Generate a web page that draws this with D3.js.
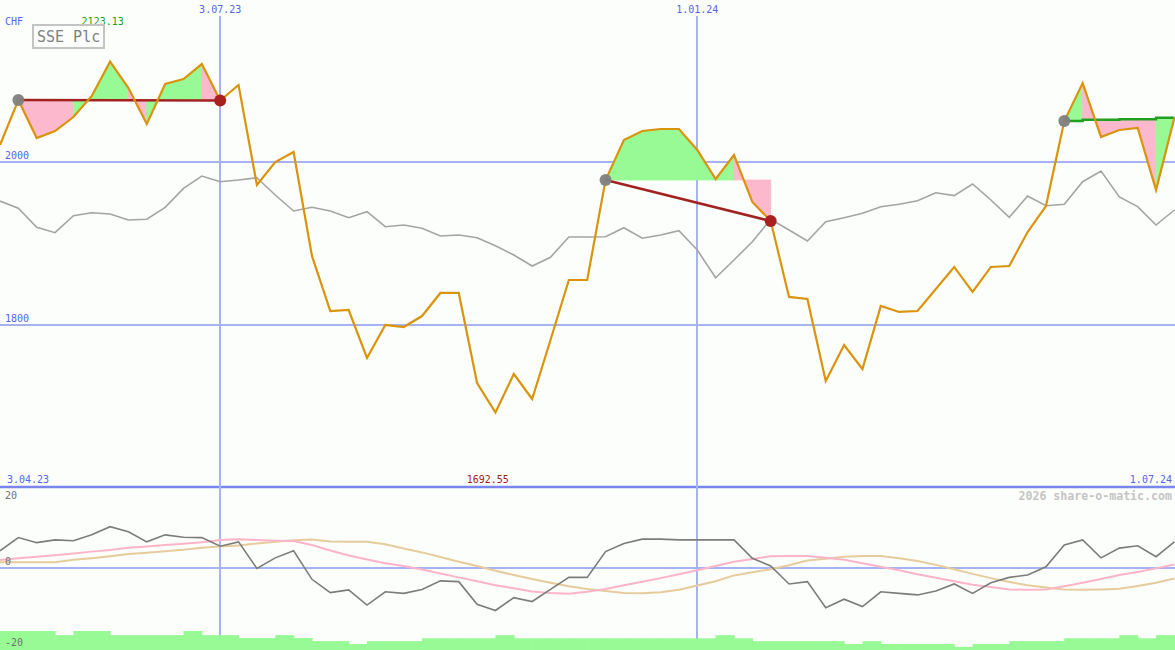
<!DOCTYPE html>
<html><head><meta charset="utf-8">
<script src="https://cdn.jsdelivr.net/npm/d3@7"></script>
<style>
html,body{margin:0;padding:0;background:#fcfefc;}
svg{display:block;}
text{font-family:"DejaVu Sans Mono",monospace;}
</style></head>
<body>
<script>
// ---------- data ----------
const startDate = "2023-04-10", endDate = "2024-07-01";
const rangeLabels = ["3.04.23", "1.07.24"];
const dateTicks = ["2023-07-03", "2024-01-01"];
const dateTickLabels = ["3.07.23", "1.01.24"];
const priceTicks = [2000, 1800];
const oscTicks = [20, 0, -20];
const currency = "CHF";
const title = "SSE Plc";
const watermark = "2026 share-o-matic.com";

const price = [2020.9,2076.1,2029.4,2038.0,2055.2,2081.0,2123.13,2090.8,2046.6,2095.7,
  2101.8,2120.2,2075.5,2094.5,1971.8,2000.0,2012.3,1884.7,1817.2,1818.4,
  1759.5,1800.0,1797.5,1811.0,1839.3,1839.3,1728.8,1692.55,1739.9,1709.2,
  1781.6,1855.2,1855.2,1977.9,2027.0,2038.0,2040.5,2040.5,2014.7,1979.1,
  2008.6,1950.9,1927.6,1834.4,1831.9,1731.3,1775.5,1746.0,1823.3,1816.0,
  1817.2,1844.2,1871.2,1840.5,1871.2,1872.4,1914.1,1946.0,2050.3,2096.9,
  2030.7,2039.3,2041.7,1965.6,2054.5];

const compare = [1952.1,1943.2,1919.9,1913.3,1934.1,1937.8,1936.2,1928.8,1929.7,1944.4,
  1967.7,1982.8,1975.8,1977.9,1980.7,1959.5,1939.9,1944.4,1939.9,1931.7,
  1939.0,1920.6,1922.7,1918.7,1909.2,1910.4,1907.1,1897.3,1885.9,1872.4,
  1883.1,1908.0,1908.0,1908.3,1919.4,1906.4,1910.4,1915.7,1892.0,1858.0,
  1879.8,1902.2,1929.7,1916.6,1903.1,1926.7,1931.7,1937.1,1945.2,1948.1,
  1952.5,1962.3,1958.7,1973.0,1953.4,1932.1,1958.3,1946.4,1948.1,1975.8,
  1989.0,1957.1,1945.2,1922.7,1941.1];

const momentum = [4.4,7.8,6.5,7.2,7.0,8.5,10.6,9.3,6.7,8.5,
  7.9,7.8,5.6,6.7,-0.1,2.6,4.4,-2.9,-6.3,-5.6,
  -9.5,-6.1,-6.5,-5.5,-3.3,-3.5,-9.3,-10.9,-7.6,-8.6,
  -5.5,-2.4,-2.4,4.2,6.3,7.4,7.4,7.2,7.2,7.2,
  7.2,2.5,0.5,-4.1,-3.5,-10.2,-8.0,-9.9,-6.1,-6.5,
  -6.9,-5.9,-4.1,-6.5,-3.8,-2.4,-1.8,0.3,5.9,7.2,
  2.6,5.1,5.7,2.9,6.7];

const avgFast = [2.05,2.5,2.9,3.3,3.7,4.2,4.6,5.2,5.5,5.9,
  6.2,6.6,7.2,7.4,7.2,7.0,6.9,5.9,4.5,3.2,
  2.2,1.2,0.5,-0.4,-1.4,-2.4,-3.4,-4.4,-5.2,-6.0,
  -6.4,-6.6,-6.1,-5.4,-4.4,-3.5,-2.6,-1.6,-0.6,0.5,
  1.6,2.3,3.0,3.1,3.1,2.6,2.1,1.2,0.3,-0.6,
  -1.6,-2.5,-3.4,-4.3,-4.9,-5.5,-5.6,-5.5,-4.7,-3.8,
  -2.8,-1.8,-1.0,-0.1,0.9];

const avgSlow = [1.5,1.5,1.5,1.5,2.1,2.5,3.0,3.6,3.9,4.3,
  4.7,5.2,5.5,5.8,6.3,6.7,7.1,7.3,6.8,6.7,
  6.7,6.1,5.0,4.0,2.8,1.6,0.5,-0.7,-1.8,-2.8,
  -3.8,-4.7,-5.4,-5.9,-6.4,-6.5,-6.2,-5.6,-4.5,-3.4,
  -1.9,-1.1,-0.3,0.7,1.9,2.4,2.9,3.1,3.1,2.5,
  1.8,0.8,-0.3,-1.5,-2.6,-3.6,-4.4,-5.0,-5.5,-5.6,
  -5.5,-5.3,-4.6,-3.8,-2.7];

const volume = [60,60,60,47,60,60,47,47,47,47,
  60,47,47,38,38,47,38,28,28,19,
  28,28,28,37,37,37,37,47,37,37,
  37,37,37,37,37,37,37,37,37,47,
  37,28,28,28,28,28,19,28,19,19,
  19,19,10,19,19,28,28,28,37,37,
  37,47,37,47,47];

// trades: open index, close index (null = still open), baseline levels
const tradeOpen = [1, 33, 58];
const tradeClose = [12, 42, null];
const openBaseline = [2050.3,2051.8,2051.8,2052.6,2052.6,2054.2,2054.2]; // indices 58..64

// ---------- chart ----------
const W = 1175, H = 650;
const dates = d3.timeMonday.range(new Date(startDate+"T00:00"), d3.timeDay.offset(new Date(endDate+"T00:00"),1));
const x = d3.scaleTime().domain([dates[0], dates[dates.length-1]]).range([0, 1174.4]);
const y = d3.scaleLinear().domain([1800, 2000]).range([325, 162]);
const yo = d3.scaleLinear().domain([-20, 20]).range([646, 490]);
const yv = d3.scaleLinear().domain([0, 60]).range([650, 631]);

const svg = d3.select("body").append("svg").attr("width", W).attr("height", H);
svg.append("rect").attr("width", W).attr("height", H).attr("fill", "#fcfefc");

const gridC = "#a6b2f2", blue = "#5564ee";

// horizontal price grid
svg.selectAll(".pg").data(priceTicks).join("line")
  .attr("x1", 0).attr("x2", W).attr("y1", d => y(d)).attr("y2", d => y(d))
  .attr("stroke", gridC).attr("stroke-width", 2);
// zero line lower panel
svg.append("line").attr("x1", 0).attr("x2", W).attr("y1", yo(0)).attr("y2", yo(0))
  .attr("stroke", gridC).attr("stroke-width", 2);
// divider
svg.append("line").attr("x1", 0).attr("x2", W).attr("y1", 487).attr("y2", 487)
  .attr("stroke", "#7886ee").attr("stroke-width", 2.5);
// vertical date lines
const tickDates = dateTicks.map(s => new Date(s+"T00:00"));
svg.selectAll(".vg").data(tickDates).join("line")
  .attr("x1", d => Math.round(x(d))).attr("x2", d => Math.round(x(d)))
  .attr("y1", 16).attr("y2", H)
  .attr("stroke", gridC).attr("stroke-width", 2);

// trade fills
const green = "#98fa94", pink = "#fcb8cc";
const fillG = svg.append("g");
tradeOpen.forEach((o, t) => {
  const c = tradeClose[t] === null ? price.length - 1 : tradeClose[t];
  for (let i = o; i < c; i++) {
    const b = tradeClose[t] === null ? openBaseline[i - o] : price[o];
    const pts = [[x(dates[i]), y(b)], [x(dates[i]), y(price[i])],
                 [x(dates[i+1]), y(price[i+1])], [x(dates[i+1]), y(b)]];
    const col = price[i+1] >= b ? green : pink;
    fillG.append("path").attr("d", "M" + pts.join("L") + "Z")
      .attr("fill", col).attr("stroke", col).attr("stroke-width", 0.8);
  }
});

// comparison line
svg.append("path").datum(compare)
  .attr("d", d3.line().x((d,i) => x(dates[i])).y(d => y(d)))
  .attr("fill", "none").attr("stroke", "#a4a4a4").attr("stroke-width", 1.6);

// trade lines
tradeOpen.forEach((o, t) => {
  if (tradeClose[t] !== null) {
    const c = tradeClose[t];
    svg.append("line").attr("x1", x(dates[o])).attr("y1", y(price[o]))
      .attr("x2", x(dates[c])).attr("y2", y(price[c]))
      .attr("stroke", "#a22222").attr("stroke-width", 2.5);
  } else {
    svg.append("path").datum(openBaseline)
      .attr("d", d3.line().curve(d3.curveStepAfter).x((d,i) => x(dates[o+i])).y(d => y(d)))
      .attr("fill", "none").attr("stroke", "#22a022").attr("stroke-width", 2.5);
  }
});

// price line
svg.append("path").datum(price)
  .attr("d", d3.line().x((d,i) => x(dates[i])).y(d => y(d)))
  .attr("fill", "none").attr("stroke", "#da940c").attr("stroke-width", 2.2);

// trade circles
tradeOpen.forEach((o, t) => {
  svg.append("circle").attr("cx", x(dates[o])).attr("cy", y(price[o])).attr("r", 6)
    .attr("fill", "#808080").attr("opacity", 0.95);
  if (tradeClose[t] !== null) {
    const c = tradeClose[t];
    svg.append("circle").attr("cx", x(dates[c])).attr("cy", y(price[c])).attr("r", 6)
      .attr("fill", "#a82020");
  }
});

// lower panel lines
const lo = d3.line().x((d,i) => x(dates[i])).y(d => yo(d));
svg.append("path").datum(avgSlow).attr("d", lo).attr("fill", "none").attr("stroke", "#e6cc9c").attr("stroke-width", 2);
svg.append("path").datum(avgFast).attr("d", lo).attr("fill", "none").attr("stroke", "#fcb4c8").attr("stroke-width", 2);
svg.append("path").datum(momentum).attr("d", lo).attr("fill", "none").attr("stroke", "#7c7c7c").attr("stroke-width", 1.6);

// volume bars
const step = x(dates[1]) - x(dates[0]);
svg.selectAll(".vb").data(volume).join("rect")
  .attr("x", (d,i) => x(dates[i])).attr("width", step + 0.6)
  .attr("y", d => yv(d)).attr("height", d => 650 - yv(d))
  .attr("fill", "#98fa94");

// ---------- texts ----------
const txt = (s, xx, yy, opt = {}) => svg.append("text").text(s).attr("x", xx).attr("y", yy)
  .attr("font-size", opt.size || 10).attr("fill", opt.fill || blue)
  .attr("text-anchor", opt.anchor || "start").attr("font-weight", opt.weight || "normal");

txt(currency, 5, 24.5);
tickDates.forEach((d, i) => txt(dateTickLabels[i], x(d), 13, {anchor: "middle"}));
priceTicks.forEach(p => txt(String(p), 5, y(p) - 3));
txt(rangeLabels[0], 7, 483);
txt(rangeLabels[1], 1172, 483, {anchor: "end"});

const iMax = price.indexOf(d3.max(price)), iMin = price.indexOf(d3.min(price));
txt(d3.max(price).toFixed(2), x(dates[iMax]) - 28.5, 24.5, {fill: "#20a020"});
txt(d3.min(price).toFixed(2), x(dates[iMin]) - 28.8, 483, {fill: "#a02020"});

oscTicks.forEach(v => {
  const yy = v === 20 ? yo(v) + 9 : (v === 0 ? yo(v) - 3 : yo(v));
  txt(String(v), 5, yy, {fill: "#707070"});
});
txt(watermark, 1172, 500, {anchor: "end", fill: "#c4c4c4", size: 11.6, weight: "bold"});

// title box
svg.append("rect").attr("x", 33).attr("y", 25).attr("width", 71).attr("height", 23)
  .attr("fill", "#fcfefc").attr("stroke", "#c4c4c4").attr("stroke-width", 2);
txt(title, 37, 42, {fill: "#808080", size: 15});
</script>
</body></html>
